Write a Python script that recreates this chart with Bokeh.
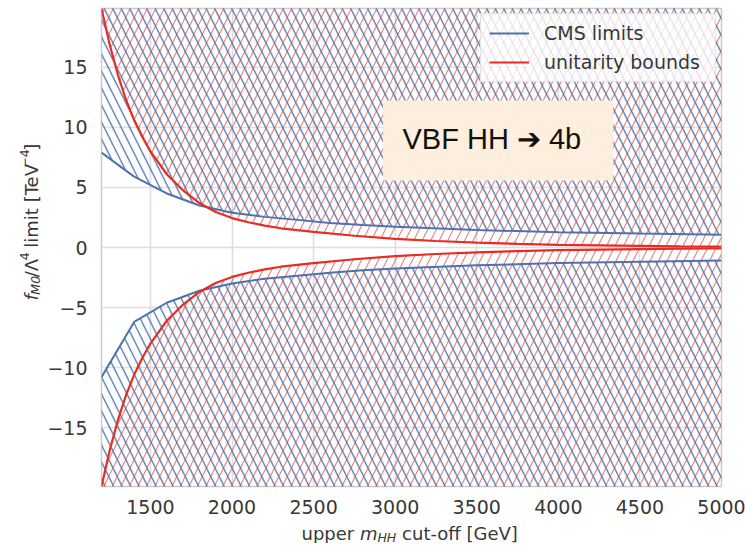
import math
from bokeh.plotting import figure
from bokeh.layouts import row, column
from bokeh.models import Range1d, Legend, LegendItem, Label, BoxAnnotation, FixedTicker
from bokeh.core.properties import value
from bokeh.embed import file_html
from bokeh.resources import INLINE

# ---------------- data ----------------
cms_mass = [1200, 1400, 1600, 1800, 2000, 2200, 2400, 2600, 2800, 3000,
            3500, 4000, 4500, 5000]
cms_upper = [7.9, 5.9, 4.5, 3.5, 2.9, 2.55, 2.3, 2.05, 1.88, 1.72,
             1.45, 1.28, 1.16, 1.07]
cms_lower = [-10.8, -6.2, -4.6, -3.6, -3.0, -2.6, -2.35, -2.1, -1.9, -1.75,
             -1.48, -1.3, -1.18, -1.08]

unit_mass = [1200, 1250, 1300, 1350, 1400, 1450, 1500, 1600, 1700, 1800,
             1900, 2000, 2100, 2200, 2300, 2400, 2500, 2750, 3000, 3250,
             3500, 3750, 4000, 4250, 4500, 4750, 5000]
unit_upper = [19.9, 16.9, 14.4, 12.3, 10.6, 9.2, 8.0, 6.1, 4.75, 3.7,
              2.95, 2.45, 2.1, 1.82, 1.6, 1.44, 1.3, 0.98, 0.72, 0.54,
              0.4, 0.3, 0.22, 0.17, 0.13, 0.09, 0.07]
unit_lower = [-19.9, -16.9, -14.4, -12.3, -10.6, -9.2, -8.0, -6.1, -4.75, -3.7,
              -2.95, -2.45, -2.1, -1.82, -1.6, -1.44, -1.3, -0.98, -0.72, -0.54,
              -0.4, -0.3, -0.22, -0.17, -0.13, -0.09, -0.07]

x_ticks = [1500, 2000, 2500, 3000, 3500, 4000, 4500, 5000]
y_ticks = [-15, -10, -5, 0, 5, 10, 15]

# ---------------- style ----------------
BLUE = "#4c72b0"
RED = "#ea2b23"
HATCH_RED = "#d64b44"
TXT = "#383838"
FONT = "DejaVu Sans"

YLAB_W = 44
P_H = 519
XLAB_H = 24
TOTAL_W = 743

p = figure(frame_width=620, frame_height=478,
           min_border_left=54, min_border_right=25,
           min_border_top=8, min_border_bottom=33,
           x_range=Range1d(1200, 5000), y_range=Range1d(-19.9, 19.9),
           output_backend="svg", toolbar_location=None,
           background_fill_color="white", border_fill_color="white")

p.outline_line_color = "#cccccc"
p.outline_line_width = 1.5

p.xaxis.ticker = FixedTicker(ticks=x_ticks)
p.yaxis.ticker = FixedTicker(ticks=y_ticks)
p.yaxis.major_label_overrides = {t: ("\u2212" + str(-t) if t < 0 else str(t))
                                 for t in y_ticks}
for ax in (p.xaxis, p.yaxis):
    ax.axis_line_color = None
    ax.major_tick_line_color = None
    ax.minor_tick_line_color = None
    ax.major_label_text_font = FONT
    ax.major_label_text_font_size = "19px"
    ax.major_label_text_color = TXT
p.xaxis.major_label_standoff = 7
p.yaxis.major_label_standoff = 8

p.grid.grid_line_color = "#dedede"
p.grid.grid_line_width = 1.6
p.xgrid.ticker = FixedTicker(ticks=x_ticks)
p.ygrid.ticker = FixedTicker(ticks=y_ticks)

# ---------------- hatched exclusion regions ----------------
p.varea(x=cms_mass, y1=cms_upper, y2=25, fill_alpha=0, hatch_pattern="\\",
        hatch_color=BLUE, hatch_alpha=0.8, hatch_scale=17, hatch_weight=1.6)
p.varea(x=cms_mass, y1=-25, y2=cms_lower, fill_alpha=0, hatch_pattern="\\",
        hatch_color=BLUE, hatch_alpha=0.8, hatch_scale=17, hatch_weight=1.6)
p.varea(x=unit_mass, y1=unit_upper, y2=25, fill_alpha=0, hatch_pattern="/",
        hatch_color=HATCH_RED, hatch_alpha=0.65, hatch_scale=17, hatch_weight=1.2)
p.varea(x=unit_mass, y1=-25, y2=unit_lower, fill_alpha=0, hatch_pattern="/",
        hatch_color=HATCH_RED, hatch_alpha=0.65, hatch_scale=17, hatch_weight=1.2)

# ---------------- boundary lines ----------------
cms_line = p.line(cms_mass, cms_upper, line_color=BLUE, line_width=2)
p.line(cms_mass, cms_lower, line_color=BLUE, line_width=2)
unit_line = p.line(unit_mass, unit_upper, line_color=RED, line_width=2.2)
p.line(unit_mass, unit_lower, line_color=RED, line_width=2.2)

legend = Legend(items=[LegendItem(label="CMS limits", renderers=[cms_line]),
                       LegendItem(label="unitarity bounds", renderers=[unit_line])],
                location="top_right", margin=5, padding=8, spacing=7,
                glyph_width=40, label_standoff=15, label_width=163,
                label_text_font=FONT, label_text_font_size="19px",
                label_text_color=TXT, border_line_color="#cccccc",
                border_line_width=1, background_fill_color="white",
                background_fill_alpha=0.8)
p.add_layout(legend, "center")

# ---------------- VBF HH -> 4b box ----------------
box = BoxAnnotation(left=2925, right=4337, top=12.25, bottom=5.58,
                    fill_color="#feeedd", fill_alpha=1.0, line_color=None)
p.add_layout(box)
p.add_layout(Label(x=3045, y=9.0, text="VBF HH \u2794 4b",
                   text_font="Liberation Sans", text_font_size="29px",
                   text_color="#111111", text_baseline="middle",
                   text_align="left"))


# ---------------- axis-label strips (pixel coordinates of the page) ----------------
def strip(w, h, y_top, y_bottom):
    f = figure(width=w, height=h, x_range=Range1d(0, w),
               y_range=Range1d(y_bottom, y_top), min_border=0,
               x_axis_type=None, y_axis_type=None, output_backend="svg",
               toolbar_location=None, background_fill_color="white",
               border_fill_color="white")
    f.outline_line_color = None
    f.grid.visible = False
    return f


def piece(fig, text, px, py, size=18, italic=False, angle=0.0):
    fig.text(x=[px], y=[py], text=[text], angle=angle,
             text_font=value(FONT), text_font_size=value(f"{size}px"),
             text_font_style="italic" if italic else "normal",
             text_color=TXT, text_align="left", text_baseline="alphabetic")


ylab = strip(YLAB_W, P_H, 0, P_H)
A = math.pi / 2
bx = 31
piece(ylab, "f", bx, 317, italic=True, angle=A)
piece(ylab, "M0", bx + 3.5, 310.7, size=12.6, italic=True, angle=A)
piece(ylab, "/\u039b", bx, 291.8, angle=A)
piece(ylab, "4", bx - 7, 273.4, size=12.6, angle=A)
piece(ylab, "limit [TeV", bx, 259.7, angle=A)
piece(ylab, "\u22124", bx - 7, 173, size=12.6, angle=A)
piece(ylab, "]", bx, 154.4, angle=A)

xlab = strip(TOTAL_W, XLAB_H, P_H, P_H + XLAB_H)
base = 533
piece(xlab, "upper", 301, base)
piece(xlab, "m", 359.4, base, italic=True)
piece(xlab, "HH", 376.9, base + 3.5, size=12.6, italic=True)
piece(xlab, "cut-off [GeV]", 401.6, base)

layout = column(row(ylab, p, spacing=0), xlab, spacing=0)

open("out.html", "w").write(file_html(layout, INLINE))
